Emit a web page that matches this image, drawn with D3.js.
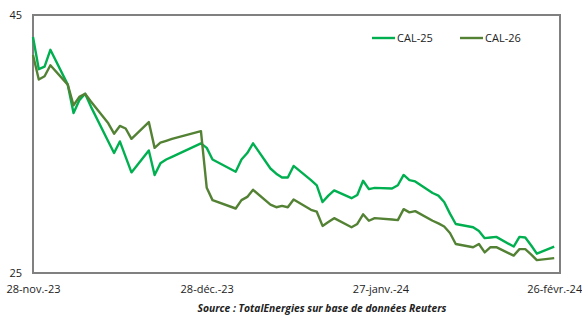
<!DOCTYPE html>
<html>
<head>
<meta charset="utf-8">
<script src="https://cdn.jsdelivr.net/npm/d3@7"></script>
<style>
  body { margin: 0; background: #fff; }
  svg { display: block; font-family: "Open Sans", "Liberation Sans", sans-serif; }
</style>
</head>
<body>
<svg id="chart" width="582" height="315"></svg>
<script>
// ---- data (trading days) ----
var dates = ["2023-11-28","2023-11-29","2023-11-30","2023-12-01","2023-12-04","2023-12-05","2023-12-06","2023-12-07","2023-12-08",
  "2023-12-11","2023-12-12","2023-12-13","2023-12-14","2023-12-15","2023-12-18","2023-12-19","2023-12-20","2023-12-21","2023-12-22",
  "2023-12-27","2023-12-28","2023-12-29","2024-01-02","2024-01-03","2024-01-04","2024-01-05",
  "2024-01-08","2024-01-09","2024-01-10","2024-01-11","2024-01-12","2024-01-15","2024-01-16","2024-01-17","2024-01-18","2024-01-19",
  "2024-01-22","2024-01-23","2024-01-24","2024-01-25","2024-01-26","2024-01-29","2024-01-30","2024-01-31","2024-02-01","2024-02-02",
  "2024-02-05","2024-02-06","2024-02-07","2024-02-08","2024-02-09","2024-02-12","2024-02-13","2024-02-14","2024-02-15","2024-02-16",
  "2024-02-19","2024-02-20","2024-02-21","2024-02-22","2024-02-23","2024-02-26"];

var cal25 = [43.3,40.8,41.0,42.3,39.6,37.4,38.4,38.9,37.9,
  35.2,34.3,35.2,34.0,32.8,34.5,32.6,33.5,33.8,34.0,
  35.05,34.7,33.8,32.85,33.8,34.3,35.05,
  33.1,32.7,32.4,32.4,33.3,32.2,31.8,30.5,31.0,31.4,
  30.8,31.05,32.15,31.5,31.6,31.55,31.8,32.6,32.2,32.1,
  31.2,31.0,30.5,29.6,28.8,28.55,28.25,27.7,27.75,27.8,
  27.05,27.8,27.75,27.15,26.5,27.05];

var cal26 = [41.9,40.0,40.25,41.1,39.6,38.0,38.65,38.9,38.3,
  36.6,35.8,36.4,36.2,35.4,36.7,34.7,35.1,35.25,35.4,
  36.0,31.6,30.65,30.0,30.65,30.9,31.45,
  30.3,30.1,30.2,30.1,30.7,29.9,29.75,28.65,28.95,29.25,
  28.55,28.8,29.55,29.05,29.25,29.15,29.1,29.95,29.7,29.8,
  29.05,28.85,28.6,28.1,27.25,27.0,27.25,26.6,27.0,27.0,
  26.35,26.85,26.85,26.45,26.0,26.15];

var seriesNames = ["CAL-25","CAL-26"];
var seriesColors = ["#00b050","#548235"];

var tickDates = ["2023-11-28","2023-12-28","2024-01-27","2024-02-26"];
var tickLabels = ["28-nov.-23","28-déc.-23","27-janv.-24","26-févr.-24"];
var yTicks = [25,45];
var sourceText = "Source : TotalEnergies sur base de données Reuters";

// ---- layout ----
var plot = {left: 33, top: 15, right: 560, bottom: 273};
var parse = d3.timeParse("%Y-%m-%d");

var svg = d3.select("#chart");

var x = d3.scaleTime()
  .domain([parse("2023-11-28"), parse("2024-02-27")])
  .range([plot.left, plot.right]);

var y = d3.scaleLinear()
  .domain([25,45])
  .range([plot.bottom, plot.top]);

// frame
svg.append("rect")
  .attr("x", plot.left).attr("y", plot.top)
  .attr("width", plot.right - plot.left)
  .attr("height", plot.bottom - plot.top)
  .attr("fill", "none")
  .attr("stroke", "#808080")
  .attr("stroke-width", 2);

// y axis labels
svg.selectAll(".ylab")
  .data(yTicks)
  .enter().append("text")
  .attr("class","ylab")
  .attr("x", 22)
  .attr("y", function(d){ return y(d) + 4; })
  .attr("text-anchor","end")
  .attr("font-size", 11)
  .attr("fill", "#222")
  .text(function(d){ return d; });

// x axis (labels only)
var xAxis = d3.axisBottom(x)
  .tickValues(tickDates.map(parse))
  .tickSize(0)
  .tickPadding(0)
  .tickFormat(function(d,i){ return tickLabels[i]; });

var gx = svg.append("g")
  .attr("transform","translate(0," + (plot.bottom + 12) + ")")
  .call(xAxis);
gx.select(".domain").remove();
gx.selectAll("text")
  .attr("font-size", 11)
  .attr("font-family", "'Open Sans', 'Liberation Sans', sans-serif")
  .attr("fill", "#222");

// lines
var allSeries = [cal25, cal26];
var line = d3.line()
  .x(function(d){ return x(d.date); })
  .y(function(d){ return y(d.v); });

allSeries.forEach(function(vals, s){
  var pts = dates.map(function(dt, i){ return {date: parse(dt), v: vals[i]}; });
  svg.append("path")
    .attr("d", line(pts))
    .attr("fill","none")
    .attr("stroke", seriesColors[s])
    .attr("stroke-width", 2.4)
    .attr("stroke-linejoin","round");
});

// legend
var legX = [372, 460];
seriesNames.forEach(function(name, i){
  svg.append("line")
    .attr("x1", legX[i]).attr("x2", legX[i] + 23)
    .attr("y1", 38).attr("y2", 38)
    .attr("stroke", seriesColors[i])
    .attr("stroke-width", 2.4);
  svg.append("text")
    .attr("x", legX[i] + 25)
    .attr("y", 42)
    .attr("font-size", 11)
    .attr("fill", "#222")
    .text(name);
});

// source
svg.append("text")
  .attr("x", 322)
  .attr("y", 312)
  .attr("text-anchor","middle")
  .attr("font-size", 10.3)
  .attr("font-weight","bold")
  .attr("font-style","italic")
  .attr("fill","#222")
  .text(sourceText);
</script>
</body>
</html>
